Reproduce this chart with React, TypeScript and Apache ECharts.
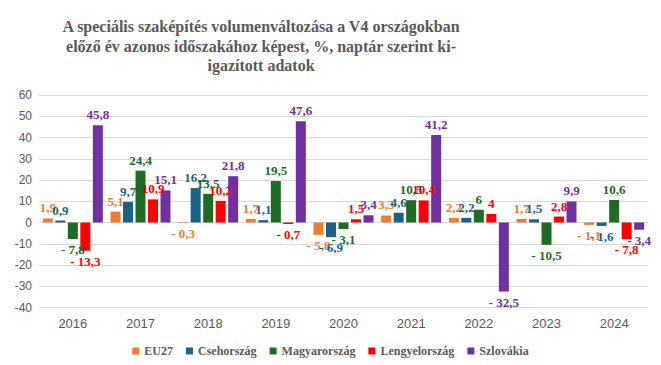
import React, { useEffect, useRef } from "react";
import * as echarts from "echarts";

const years = ["2016", "2017", "2018", "2019", "2020", "2021", "2022", "2023", "2024"];
const eu27 = [1.9, 5.1, -0.3, 1.7, -5.8, 3.3, 2.2, 1.7, -1.1];
const cseh = [0.9, 9.7, 16.2, 1.1, -6.9, 4.6, 2.2, 1.5, -1.6];
const magyar = [-7.8, 24.4, 13.5, 19.5, -3.1, 10.5, 6, -10.5, 10.6];
const lengyel = [-13.3, 10.9, 10.2, -0.7, 1.5, 10.4, 4, 2.8, -7.8];
const szlovak = [45.8, 15.1, 21.8, 47.6, 3.4, 41.2, -32.5, 9.9, -3.4];

const titleLines = [
  "A speciális szaképítés volumenváltozása a V4 országokban",
  "előző év azonos időszakához képest, %, naptár szerint ki-",
  "igazított adatok",
];

const seriesDefs = [
  { name: "EU27", data: eu27, color: "#ED7D31" },
  { name: "Csehország", data: cseh, color: "#1B6287" },
  { name: "Magyarország", data: magyar, color: "#1E6B24" },
  { name: "Lengyelország", data: lengyel, color: "#FF0000" },
  { name: "Szlovákia", data: szlovak, color: "#7030A0" },
];

const fmt = (v: number) => (v < 0 ? "- " : "") + String(Math.abs(v)).replace(".", ",");

export default function App() {
  const ref = useRef<HTMLDivElement>(null);
  useEffect(() => {
    document.body.style.margin = "0";
    const chart = echarts.init(ref.current!, null, { renderer: "svg" });
    const serif = "'Liberation Serif', 'DejaVu Serif', serif";
    const sans = "'Liberation Sans', 'Noto Sans', sans-serif";
    chart.setOption({
      animation: false,
      backgroundColor: "#fff",
      graphic: [
        {
          type: "text",
          x: 261,
          y: 17,
          style: {
            text: titleLines.join("\n"),
            textAlign: "center",
            fontFamily: serif,
            fontWeight: "bold",
            fontSize: 16,
            lineHeight: 19.5,
            fill: "#595959",
          },
        },
      ],
      legend: {
        bottom: 3,
        left: "center",
        itemWidth: 7,
        itemHeight: 7,
        itemGap: 13,
        icon: "rect",
        textStyle: { fontFamily: serif, fontWeight: "bold", fontSize: 12, color: "#595959" },
        data: seriesDefs.map((s) => s.name),
      },
      grid: { left: 39, right: 13, top: 95, bottom: 57.5, containLabel: false },
      xAxis: {
        type: "category",
        data: years,
        axisLine: { show: false, onZero: false },
        axisTick: { show: false },
        axisLabel: { fontFamily: sans, fontSize: 13, color: "#595959", margin: 9 },
      },
      yAxis: {
        type: "value",
        min: -40,
        max: 60,
        interval: 10,
        axisLine: { show: false },
        axisTick: { show: false },
        splitLine: { lineStyle: { color: "#d9d9d9", width: 1 } },
        axisLabel: { fontFamily: sans, fontSize: 12, color: "#595959", margin: 7 },
      },
      series: seriesDefs.map((s) => ({
        name: s.name,
        type: "bar",
        barWidth: 10,
        barGap: "25%",
        itemStyle: { color: s.color },
        data: s.data.map((v) => ({
          value: v,
          label: { position: v < 0 ? "bottom" : "top" },
        })),
        label: {
          show: true,
          distance: 4,
          formatter: (p: any) => fmt(p.value),
          fontFamily: serif,
          fontWeight: "bold",
          fontSize: 13,
          color: s.color,
        },
      })),
    });
    return () => chart.dispose();
  }, []);
  return <div ref={ref} style={{ width: 661, height: 365 }} />;
}
